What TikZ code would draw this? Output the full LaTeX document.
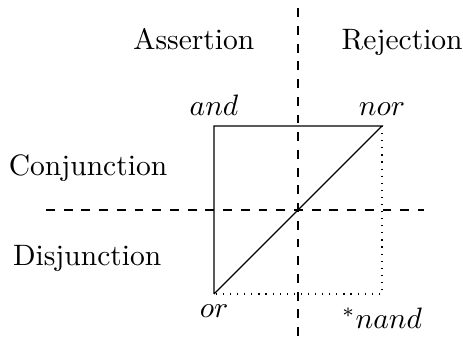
\documentclass[tikz,border=0pt]{standalone}
\begin{document}
\begin{tikzpicture}[x=1cm,y=1cm,
  solidline/.style={line width=0.4pt},
  axisline/.style={dashed, line width=0.4pt},
  dotline/.style={dotted, line width=0.4pt},
  lbl/.style={inner sep=3.33pt, anchor=base}]
\useasboundingbox (-3.548,-1.536) rectangle (1.964,2.5);
% corners
\coordinate (cand) at (-1,1);
\coordinate (cnor) at (1,1);
\coordinate (cor) at (-1,-1);
\coordinate (cnand) at (1,-1);
% axis ends
\coordinate (hl) at (-3,0);
\coordinate (hr) at (1.5,0);
\coordinate (vb) at (0,-1.5);
\coordinate (vt) at (0,2.4);
\draw[axisline] (hl) -- (hr);
\draw[axisline] (vb) -- (vt);
\draw[solidline] (cor) -- (cand) -- (cnor) -- (cor);
\draw[dotline] (cnor) -- (cnand) -- (cor);
% labels
\node[lbl] (assert) at (-1.24,1.91) {Assertion};
\node[lbl] (reject) at (1.24,1.91) {Rejection};
\node[lbl] (conj) at (-2.5,0.405) {Conjunction};
\node[lbl] (disj) at (-2.51,-0.655) {Disjunction};
\node[inner sep=3.33pt, above] (land) at (cand) {$and$};
\node[inner sep=3.33pt, above] (lnor) at (cnor) {$nor$};
\node[inner sep=3.33pt, below] (lor) at (cor) {$or$};
\node[lbl] (lnand) at (1,-1.405) {${}^{*}nand$};
\end{tikzpicture}
\end{document}
